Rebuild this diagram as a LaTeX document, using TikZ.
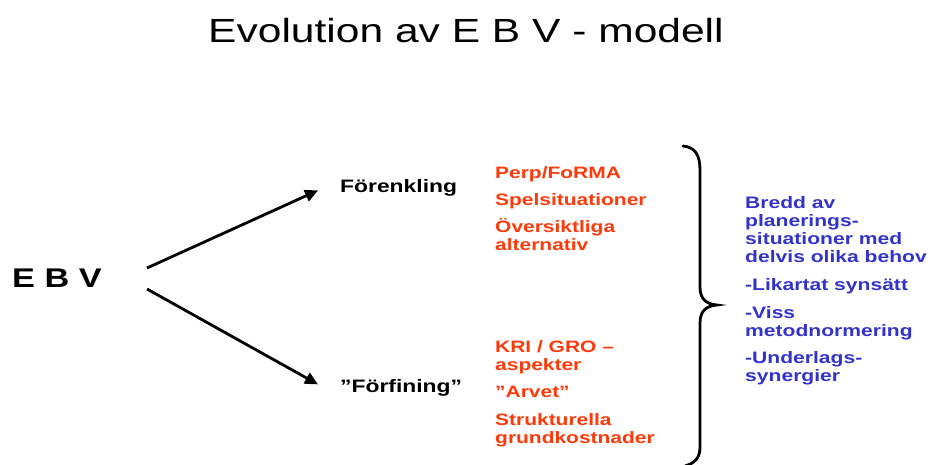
\documentclass[tikz,border=0pt]{standalone}
\usepackage{fontspec}
\setmainfont{Liberation Sans}[FakeStretch=1.27]
\usetikzlibrary{arrows.meta}
\definecolor{evored}{RGB}{255,58,10}
\definecolor{evoblue}{RGB}{51,51,204}
\tikzset{
title/.style={anchor=base,inner sep=0pt,font=\fontsize{33.5}{36}\selectfont},
root/.style={anchor=base west,inner sep=0pt,font=\bfseries\fontsize{27}{30}\selectfont},
branch/.style={anchor=base west,inner sep=0pt,font=\bfseries\fontsize{18}{20}\selectfont},
redlist/.style={anchor=base west,inner sep=0pt,align=left,text=evored,font=\bfseries\fontsize{16.5}{18}\selectfont},
bluelist/.style={anchor=base west,inner sep=0pt,align=left,text=evoblue,font=\bfseries\fontsize{16.6}{17.8}\selectfont},
arr/.style={line width=2.8pt,-{Triangle[length=13pt,width=12pt]}},
brace/.style={line width=2.8pt,line cap=round},
}

\begin{document}
\begin{tikzpicture}[x=1pt,y=-1pt]
\useasboundingbox (0,0) rectangle (930,464);
\node[title] (title) at (466,42) {Evolution av E B V - modell};
\node[root] (ebv) at (12,287) {E B V};
\node[branch] (forenkling) at (340,192) {Förenkling};
\node[branch] (forfining) at (340,392) {”Förfining”};
% endpoints of the two arrows
\coordinate (upstart) at (147,268);
\coordinate (upend) at ([xshift=-22pt,yshift=-3pt]forenkling.west);
\coordinate (downstart) at (147,289);
\coordinate (downend) at ([xshift=-22pt,yshift=3pt]forfining.west);
\draw[arr] (upstart) -- (upend);
\draw[arr] (downstart) -- (downend);
% red lists (base = last line)
\node[redlist] (perp) at (495,178) {Perp/FoRMA};
\node[redlist] (spel) at (495,205) {Spelsituationer};
\node[redlist] (oversikt) at (495,250) {Översiktliga\\alternativ};
\node[redlist] (kri) at (495,370) {KRI / GRO –\\aspekter};
\node[redlist] (arvet) at (495,397) {”Arvet”};
\node[redlist] (struktur) at (495,443) {Strukturella\\grundkostnader};
% brace
\draw[brace] (683,146) .. controls (695,147) and (700,155) .. (700,170)
  -- (700,287) .. controls (700,299) and (706,304) .. (717,305)
  .. controls (706,306) and (700,311) .. (700,323)
  -- (700,447) .. controls (700,458) and (695,463) .. (685,466);
% blue list
\node[bluelist] (bredd) at (745,262) {Bredd av\\planerings-\\situationer med\\delvis olika behov};
\node[bluelist] (likartat) at (745,290) {-Likartat synsätt};
\node[bluelist] (viss) at (745,336) {-Viss\\metodnormering};
\node[bluelist] (underlag) at (745,381) {-Underlags-\\synergier};
\end{tikzpicture}
\end{document}
